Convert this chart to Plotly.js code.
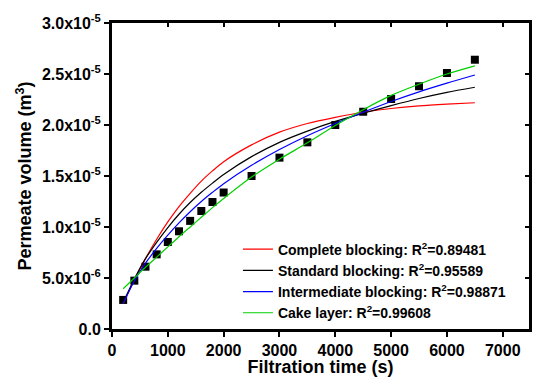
<!DOCTYPE html>
<html>
<head>
<meta charset="utf-8">
<script src="https://cdn.plot.ly/plotly-3.0.1.min.js"></script>
<style>
  html, body { margin: 0; padding: 0; background: #ffffff; }
  #chart { width: 534px; height: 377px; }
</style>
</head>
<body>
<div id="chart"></div>
<script>
// Measured data (permeate volume in units of 1e-6 m^3)
const timeData = [200, 400, 600, 800, 1000, 1200, 1400, 1600, 1800, 2000, 2500, 3000, 3500, 4000, 4500, 5000, 5500, 6000, 6500];
const volumeData = [2.85, 4.74, 6.11, 7.32, 8.53, 9.58, 10.6, 11.57, 12.45, 13.38, 15.0, 16.8, 18.3, 20.0, 21.3, 22.55, 23.8, 25.1, 26.4];

// Fitted model curves (same time grid)
const fitTime = [200, 400, 600, 800, 1000, 1200, 1400, 1600, 1800, 2000, 2500, 3000, 3500, 4000, 4500, 5000, 5500, 6000, 6500];
const completeBlocking = [2.5, 4.8, 6.9, 8.8, 10.5, 12.0, 13.3, 14.5, 15.5, 16.4, 18.05, 19.3, 20.15, 20.75, 21.25, 21.62, 21.88, 22.05, 22.18];
const standardBlocking = [2.6, 4.9, 6.9, 8.5, 9.95, 11.25, 12.4, 13.4, 14.3, 15.15, 16.9, 18.3, 19.4, 20.35, 21.15, 21.9, 22.6, 23.2, 23.7];
const intermediateBlocking = [2.5, 4.7, 6.45, 7.9, 9.2, 10.4, 11.5, 12.5, 13.4, 14.25, 16.05, 17.6, 18.95, 20.15, 21.25, 22.3, 23.25, 24.1, 24.9];
const cakeLayer = [3.95, 5.0, 6.05, 7.05, 8.05, 9.05, 10.0, 10.95, 11.9, 12.8, 14.9, 16.65, 18.25, 19.95, 21.5, 22.9, 24.0, 25.0, 25.8];

const legendNames = [
  'Complete blocking: R<sup>2</sup>=0.89481',
  'Standard blocking: R<sup>2</sup>=0.95589',
  'Intermediate blocking: R<sup>2</sup>=0.98871',
  'Cake layer: R<sup>2</sup>=0.99608'
];
const lineColors = ['#ff0000', '#000000', '#0000ff', '#00d000'];

const yTickVals = [0, 5, 10, 15, 20, 25, 30];
const yTickText = ['0.0', '5.0x10<sup>-6</sup>', '1.0x10<sup>-5</sup>', '1.5x10<sup>-5</sup>', '2.0x10<sup>-5</sup>', '2.5x10<sup>-5</sup>', '3.0x10<sup>-5</sup>'];
const xTickVals = [0, 1000, 2000, 3000, 4000, 5000, 6000, 7000];
const xTickText = ['0', '1000', '2000', '3000', '4000', '5000', '6000', '7000'];

const FONT = 'Liberation Sans, Arial, sans-serif';
const bold = s => '<b>' + s + '</b>';
const fits = [completeBlocking, standardBlocking, intermediateBlocking, cakeLayer];

const traces = fits.map((ys, i) => ({
  x: fitTime, y: ys, type: 'scatter', mode: 'lines',
  line: { color: lineColors[i], width: 1.2, shape: 'spline', smoothing: 0.8 },
  name: bold(legendNames[i])
}));
traces.unshift({
  x: timeData, y: volumeData, type: 'scatter', mode: 'markers',
  marker: { symbol: 'square', size: 8, color: '#000000' },
  showlegend: false, name: 'data'
});
// empty trace to hold the mirrored (inside-tick) axes
traces.push({ x: [], y: [], xaxis: 'x2', yaxis: 'y2', showlegend: false, hoverinfo: 'skip' });

const xr = [0, 7470];
const yr = [0, 30];

const layout = {
  width: 534, height: 377,
  margin: { l: 112, r: 5, t: 23, b: 48 },
  paper_bgcolor: '#ffffff', plot_bgcolor: '#ffffff',
  font: { family: FONT, color: '#000000' },
  showlegend: true,
  legend: {
    x: 0.302, y: 0.312, xanchor: 'left', yanchor: 'top',
    bgcolor: 'rgba(0,0,0,0)', borderwidth: 0,
    font: { family: FONT, size: 14, color: '#000000' },
    tracegroupgap: 0
  },
  xaxis: {
    range: xr, tickvals: xTickVals, ticktext: xTickText.map(bold),
    ticks: 'outside', ticklen: 5, tickwidth: 2, tickcolor: '#000',
    showline: true, linewidth: 3, linecolor: '#000', mirror: true,
    showgrid: false, zeroline: false,
    tickfont: { family: FONT, size: 16 },
    title: { text: bold('Filtration time (s)'), font: { family: FONT, size: 18 }, standoff: 0 }
  },
  yaxis: {
    range: yr, tickvals: yTickVals, ticktext: yTickText.map(bold),
    ticks: 'outside', ticklen: 5, tickwidth: 2, tickcolor: '#000',
    showline: true, linewidth: 3, linecolor: '#000', mirror: true,
    showgrid: false, zeroline: false,
    tickfont: { family: FONT, size: 16 },
    title: { text: bold('Permeate volume (m<sup>3</sup>)'), font: { family: FONT, size: 18 }, standoff: 6 }
  },
  xaxis2: {
    overlaying: 'x', side: 'top', anchor: 'y2', range: xr, tickvals: xTickVals,
    ticks: 'inside', ticklen: 4, tickwidth: 2, tickcolor: '#000',
    showticklabels: false, showline: false, showgrid: false, zeroline: false
  },
  yaxis2: {
    overlaying: 'y', side: 'right', anchor: 'x2', range: yr, tickvals: yTickVals,
    ticks: 'inside', ticklen: 4, tickwidth: 2, tickcolor: '#000',
    showticklabels: false, showline: false, showgrid: false, zeroline: false
  }
};

Plotly.newPlot('chart', traces, layout, { displayModeBar: false, staticPlot: true });
</script>
</body>
</html>
